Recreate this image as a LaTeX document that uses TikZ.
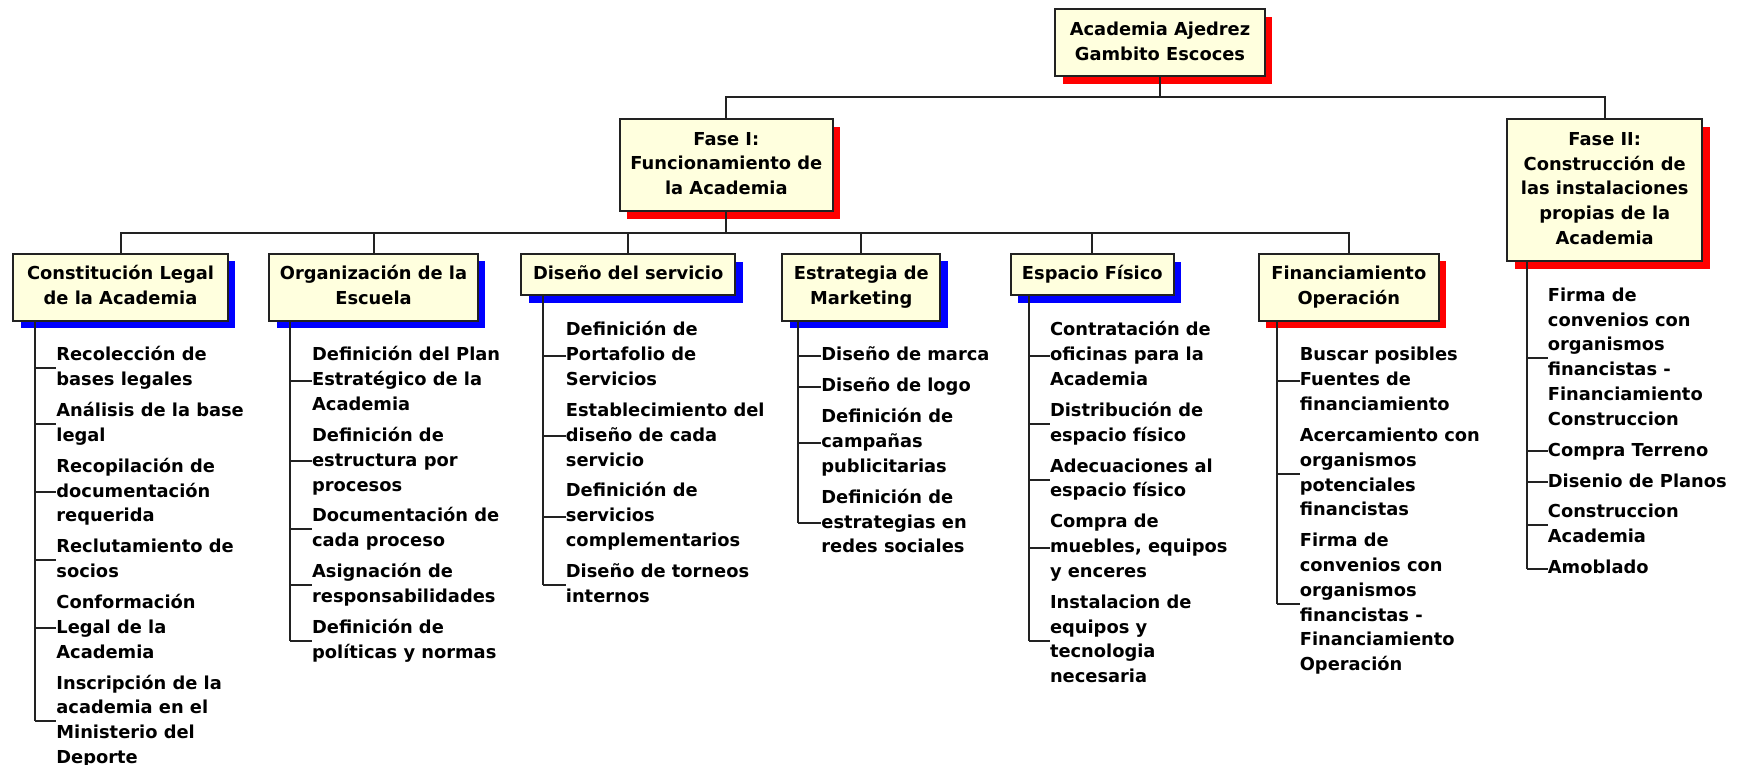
\documentclass[tikz,border=0pt]{standalone}
\usepackage{fontspec}
\setmainfont{DejaVu Sans}
\usetikzlibrary{shadows}
\definecolor{boxfill}{RGB}{255,255,222}
\definecolor{edgec}{RGB}{34,34,34}
\newcommand\wbsfont{\fontsize{17.85pt}{24.8pt}\selectfont\bfseries}
\begin{document}
\begin{tikzpicture}[x=1pt,y=-1pt,
  wbox/.style={draw=edgec, line width=2pt, fill=boxfill, font=\wbsfont, align=center, inner sep=0pt},
  blueshadow/.style={drop shadow={shadow xshift=7.5pt, shadow yshift=-7.5pt, fill=blue, opacity=1}},
  redshadow/.style={drop shadow={shadow xshift=7.5pt, shadow yshift=-7.5pt, fill=red, opacity=1}},
  leaf/.style={font=\wbsfont, align=left, inner sep=0pt, anchor=north west},
  conn/.style={draw=edgec, line width=2pt}]
\useasboundingbox (0,0) rectangle (1739,764);

% boxes
\node[wbox, redshadow, minimum width=209.4pt, minimum height=66.7pt] (top) at (1160,42.7) {\strut Academia Ajedrez\\Gambito Escoces\strut};
\node[wbox, redshadow, minimum width=212.7pt, minimum height=92pt] (f1) at (726.3,165) {\strut Fase I:\\Funcionamiento de\\la Academia\strut};
\node[wbox, redshadow, minimum width=194.7pt, minimum height=142pt] (f2) at (1604.7,190) {\strut Fase II:\\Construcción de\\las instalaciones\\propias de la\\Academia\strut};
\node[wbox, blueshadow, minimum width=214.4pt, minimum height=66.7pt] (e1) at (120.5,287.3) {\strut Constitución Legal\\de la Academia\strut};
\node[wbox, blueshadow, minimum width=208.4pt, minimum height=66.7pt] (e2) at (373.5,287.3) {\strut Organización de la\\Escuela\strut};
\node[wbox, blueshadow, minimum width=214.3pt, minimum height=41.3pt] (e3) at (628.2,274.7) {\strut Diseño del servicio\strut};
\node[wbox, blueshadow, minimum width=158pt, minimum height=66.7pt] (e4) at (861.3,287.3) {\strut Estrategia de\\Marketing\strut};
\node[wbox, blueshadow, minimum width=163.3pt, minimum height=41.3pt] (e5) at (1092.3,274.7) {\strut Espacio Físico\strut};
\node[wbox, redshadow, minimum width=179.7pt, minimum height=66.7pt] (e6) at (1348.8,287.3) {\strut Financiamiento\\Operación\strut};

% connectors between boxes
\coordinate (bar1) at (0,97.3);
\coordinate (bar2) at (0,232.5);
\draw[conn] (top.south) -- (top.south |- bar1) -| (f1.north);
\draw[conn] (top.south |- bar1) -| (f2.north);
\draw[conn] (f1.south) -- (f1.south |- bar2) -| (e1.north);
\foreach \i in {2,...,6} \draw[conn] (f1.south |- bar2) -| (e\i.north);

% column 1
\node[leaf] (la1) at (56.2,343.4) {\strut Recolección de\\bases legales\strut};
\node[leaf] (la2) at ([yshift=-5.7pt]la1.south west) {\strut Análisis de la base\\legal\strut};
\node[leaf] (la3) at ([yshift=-5.7pt]la2.south west) {\strut Recopilación de\\documentación\\requerida\strut};
\node[leaf] (la4) at ([yshift=-5.7pt]la3.south west) {\strut Reclutamiento de\\socios\strut};
\node[leaf] (la5) at ([yshift=-5.7pt]la4.south west) {\strut Conformación\\Legal de la\\Academia\strut};
\node[leaf] (la6) at ([yshift=-5.7pt]la5.south west) {\strut Inscripción de la\\academia en el\\Ministerio del\\Deporte\strut};
\coordinate (va) at (35,0);
\draw[conn] (e1.south -| va) -- (la6.west -| va);
\foreach \i in {1,...,6} \draw[conn] (la\i.west -| va) -- (la\i.west);

% column 2
\node[leaf] (lb1) at (311.9,343.4) {\strut Definición del Plan\\Estratégico de la\\Academia\strut};
\node[leaf] (lb2) at ([yshift=-5.7pt]lb1.south west) {\strut Definición de\\estructura por\\procesos\strut};
\node[leaf] (lb3) at ([yshift=-5.7pt]lb2.south west) {\strut Documentación de\\cada proceso\strut};
\node[leaf] (lb4) at ([yshift=-5.7pt]lb3.south west) {\strut Asignación de\\responsabilidades\strut};
\node[leaf] (lb5) at ([yshift=-5.7pt]lb4.south west) {\strut Definición de\\políticas y normas\strut};
\coordinate (vb) at (290.2,0);
\draw[conn] (e2.south -| vb) -- (lb5.west -| vb);
\foreach \i in {1,...,5} \draw[conn] (lb\i.west -| vb) -- (lb\i.west);

% column 3
\node[leaf] (lc1) at (565.7,318.4) {\strut Definición de\\Portafolio de\\Servicios\strut};
\node[leaf] (lc2) at ([yshift=-5.7pt]lc1.south west) {\strut Establecimiento del\\diseño de cada\\servicio\strut};
\node[leaf] (lc3) at ([yshift=-5.7pt]lc2.south west) {\strut Definición de\\servicios\\complementarios\strut};
\node[leaf] (lc4) at ([yshift=-5.7pt]lc3.south west) {\strut Diseño de torneos\\internos\strut};
\coordinate (vc) at (542.5,0);
\draw[conn] (e3.south -| vc) -- (lc4.west -| vc);
\foreach \i in {1,...,4} \draw[conn] (lc\i.west -| vc) -- (lc\i.west);

% column 4
\node[leaf] (ld1) at (821.2,343.4) {\strut Diseño de marca\strut};
\node[leaf] (ld2) at ([yshift=-5.7pt]ld1.south west) {\strut Diseño de logo\strut};
\node[leaf] (ld3) at ([yshift=-5.7pt]ld2.south west) {\strut Definición de\\campañas\\publicitarias\strut};
\node[leaf] (ld4) at ([yshift=-5.7pt]ld3.south west) {\strut Definición de\\estrategias en\\redes sociales\strut};
\coordinate (vd) at (797.9,0);
\draw[conn] (e4.south -| vd) -- (ld4.west -| vd);
\foreach \i in {1,...,4} \draw[conn] (ld\i.west -| vd) -- (ld\i.west);

% column 5
\node[leaf] (le1) at (1049.8,318.4) {\strut Contratación de\\oficinas para la\\Academia\strut};
\node[leaf] (le2) at ([yshift=-5.7pt]le1.south west) {\strut Distribución de\\espacio físico\strut};
\node[leaf] (le3) at ([yshift=-5.7pt]le2.south west) {\strut Adecuaciones al\\espacio físico\strut};
\node[leaf] (le4) at ([yshift=-5.7pt]le3.south west) {\strut Compra de\\muebles, equipos\\y enceres\strut};
\node[leaf] (le5) at ([yshift=-5.7pt]le4.south west) {\strut Instalacion de\\equipos y\\tecnologia\\necesaria\strut};
\coordinate (ve) at (1028.5,0);
\draw[conn] (e5.south -| ve) -- (le5.west -| ve);
\foreach \i in {1,...,5} \draw[conn] (le\i.west -| ve) -- (le\i.west);

% column 6
\node[leaf] (lf1) at (1299.6,343.4) {\strut Buscar posibles\\Fuentes de\\financiamiento\strut};
\node[leaf] (lf2) at ([yshift=-5.7pt]lf1.south west) {\strut Acercamiento con\\organismos\\potenciales\\financistas\strut};
\node[leaf] (lf3) at ([yshift=-5.7pt]lf2.south west) {\strut Firma de\\convenios con\\organismos\\financistas -\\Financiamiento\\Operación\strut};
\coordinate (vf) at (1276.8,0);
\draw[conn] (e6.south -| vf) -- (lf3.west -| vf);
\foreach \i in {1,...,3} \draw[conn] (lf\i.west -| vf) -- (lf\i.west);

% column 7
\node[leaf] (lg1) at (1547.7,283.7) {\strut Firma de\\convenios con\\organismos\\financistas -\\Financiamiento\\Construccion\strut};
\node[leaf] (lg2) at ([yshift=-5.7pt]lg1.south west) {\strut Compra Terreno\strut};
\node[leaf] (lg3) at ([yshift=-5.7pt]lg2.south west) {\strut Disenio de Planos\strut};
\node[leaf] (lg4) at ([yshift=-5.7pt]lg3.south west) {\strut Construccion\\Academia\strut};
\node[leaf] (lg5) at ([yshift=-5.7pt]lg4.south west) {\strut Amoblado\strut};
\coordinate (vg) at (1527.3,0);
\draw[conn] (f2.south -| vg) -- (lg5.west -| vg);
\foreach \i in {1,...,5} \draw[conn] (lg\i.west -| vg) -- (lg\i.west);
\end{tikzpicture}
\end{document}
